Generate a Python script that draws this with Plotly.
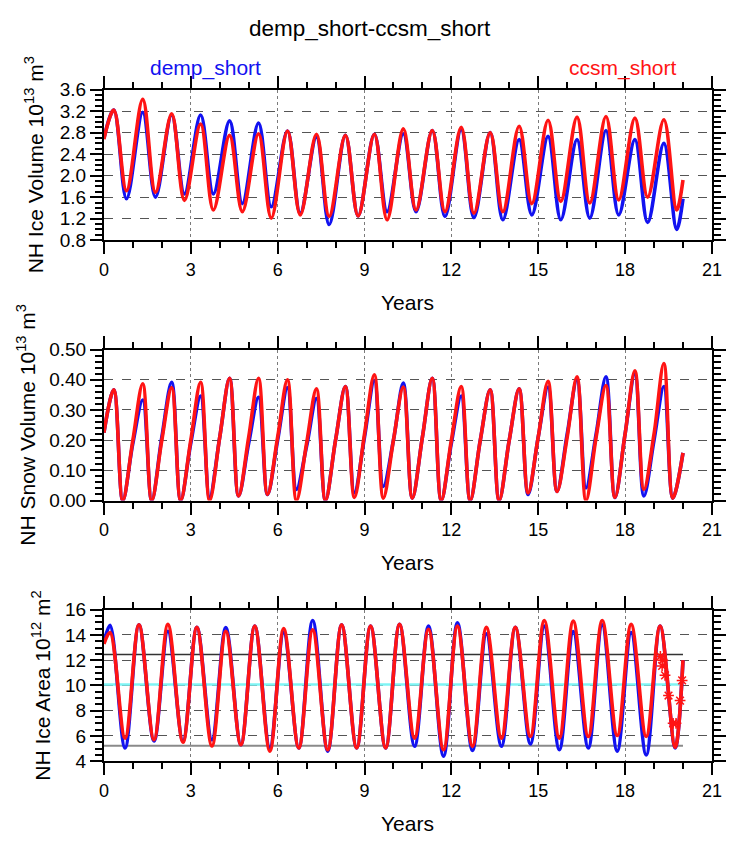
import plotly.graph_objects as go

# ---------------- data ----------------
YEARS = list(range(20))

# NH ice volume (10^13 m^3): seasonal maxima / minima per model year
VOL_T_PEAK, VOL_T_TROUGH = 0.34, 0.78
vol_demp_start, vol_demp_end = 2.70, 1.57
vol_demp_peak = [3.22, 3.18, 3.13, 3.13, 3.02, 2.98, 2.83, 2.72, 2.75, 2.77,
                 2.78, 2.84, 2.86, 2.80, 2.67, 2.73, 2.67, 2.84, 2.67, 2.60]
vol_demp_trough = [1.57, 1.60, 1.66, 1.66, 1.48, 1.42, 1.30, 1.09, 1.25, 1.33,
                   1.33, 1.24, 1.22, 1.18, 1.27, 1.18, 1.21, 1.27, 1.13, 1.00]
vol_ccsm_start, vol_ccsm_end = 2.68, 1.92
vol_ccsm_peak = [3.22, 3.42, 3.15, 2.96, 2.75, 2.78, 2.83, 2.77, 2.75, 2.77,
                 2.87, 2.84, 2.90, 2.80, 2.92, 3.03, 3.09, 3.10, 3.07, 3.04]
vol_ccsm_trough = [1.72, 1.69, 1.54, 1.36, 1.33, 1.21, 1.27, 1.24, 1.25, 1.18,
                   1.36, 1.33, 1.30, 1.33, 1.48, 1.52, 1.49, 1.55, 1.60, 1.36]

# NH snow volume (10^13 m^3): January value, spring maximum, summer minimum
SNOW_T_JAN, SNOW_T_PEAK, SNOW_T_TROUGH = 0.0, 0.34, 0.65
snow_demp_start, snow_demp_end = 0.225, 0.158
snow_demp_jan = [None, 0.19, 0.21, 0.19, 0.21, 0.19, 0.20, 0.18, 0.20, 0.21,
                 0.20, 0.21, 0.19, 0.20, 0.20, 0.21, 0.22, 0.22, 0.22, 0.20]
snow_demp_peak = [0.367, 0.333, 0.392, 0.346, 0.405, 0.342, 0.374, 0.338, 0.378, 0.398,
                  0.389, 0.405, 0.346, 0.367, 0.370, 0.376, 0.400, 0.410, 0.420, 0.378]
snow_demp_trough = [0.000, 0.000, 0.000, 0.010, 0.015, 0.020, 0.037, 0.000, 0.026, 0.047,
                    0.008, 0.000, 0.000, 0.000, 0.020, 0.030, 0.042, 0.010, 0.015, 0.008]
snow_ccsm_start, snow_ccsm_end = 0.225, 0.158
snow_ccsm_jan = [None, 0.20, 0.20, 0.20, 0.21, 0.21, 0.21, 0.19, 0.20, 0.22,
                 0.20, 0.21, 0.20, 0.20, 0.20, 0.21, 0.21, 0.21, 0.22, 0.22]
snow_ccsm_peak = [0.367, 0.387, 0.374, 0.392, 0.405, 0.405, 0.400, 0.370, 0.378, 0.417,
                  0.376, 0.405, 0.378, 0.367, 0.370, 0.395, 0.410, 0.381, 0.430, 0.454]
snow_ccsm_trough = [0.000, 0.000, 0.000, 0.000, 0.015, 0.020, 0.000, 0.000, 0.010, 0.008,
                    0.008, 0.000, 0.000, 0.000, 0.025, 0.030, 0.000, 0.010, 0.037, 0.008]

# NH ice area (10^12 m^2)
AREA_T_PEAK, AREA_T_TROUGH = 0.21, 0.73
area_demp_start, area_demp_end = 13.4, 12.0
area_demp_peak = [14.76, 14.80, 14.30, 14.60, 14.58, 14.70, 14.20, 15.15, 14.80, 14.70,
                  14.84, 14.70, 14.97, 14.10, 14.60, 14.70, 14.27, 14.80, 14.20, 14.70]
area_demp_trough = [5.05, 5.60, 5.60, 5.70, 5.30, 5.05, 5.05, 4.80, 5.05, 5.05,
                    5.18, 4.40, 4.85, 5.18, 5.36, 4.90, 5.05, 4.80, 4.50, 5.05]
area_ccsm_start, area_ccsm_end = 13.3, 12.0
area_ccsm_peak = [14.20, 14.80, 14.84, 14.60, 14.30, 14.70, 14.50, 14.40, 14.80, 14.70,
                  14.84, 14.45, 14.70, 14.60, 14.60, 15.15, 15.10, 15.15, 14.84, 14.70]
area_ccsm_trough = [5.83, 5.70, 5.50, 5.20, 5.30, 4.80, 5.05, 4.90, 5.05, 5.05,
                    5.83, 4.90, 5.18, 5.83, 5.95, 5.83, 5.95, 6.03, 5.95, 5.10]

# extra red star samples in the last year of the ice-area panel
star_x = [19.22, 19.28, 19.30, 19.38, 19.50, 19.66, 19.76, 19.90, 19.97]
star_y = [12.30, 11.55, 12.00, 10.80, 9.20, 7.00, 7.00, 8.80, 10.40]

# reference levels drawn on the ice-area panel
area_ref_x = [0, 20]
area_ref_high = 12.45
area_ref_mid = 10.07
area_ref_low = 5.23

X_TICKS = [0, 3, 6, 9, 12, 15, 18, 21]

# ---------------- helpers ----------------
def two_phase(start, peaks, troughs, end, tp, tt):
    xs, ys = [0.0], [start]
    for k, p, t in zip(YEARS, peaks, troughs):
        xs += [k + tp, k + tt]
        ys += [p, t]
    xs.append(20.0)
    ys.append(end)
    return xs, ys


def three_phase(start, jans, peaks, troughs, end):
    xs, ys = [0.0], [start]
    for k, j, p, t in zip(YEARS, jans, peaks, troughs):
        if j is not None:
            xs.append(k + SNOW_T_JAN)
            ys.append(j)
        xs += [k + SNOW_T_PEAK, k + SNOW_T_TROUGH]
        ys += [p, t]
    xs.append(20.0)
    ys.append(end)
    return xs, ys


W, H = 733, 846
FONT = "Liberation Sans, Arial, Helvetica, sans-serif"
BLUE, RED = "#1212f0", "#ff1414"


def fx(px):
    return px / W


def fy(py):
    return 1 - py / H


X0, X1 = 101, 721.7
PANELS = [(81.7, 236.0), (348.3, 503.0), (615.0, 770.3)]

fig = go.Figure()

line_style = dict(width=3.6, shape="spline", smoothing=1.0)

series = [
    (two_phase(vol_demp_start, vol_demp_peak, vol_demp_trough, vol_demp_end, VOL_T_PEAK, VOL_T_TROUGH),
     two_phase(vol_ccsm_start, vol_ccsm_peak, vol_ccsm_trough, vol_ccsm_end, VOL_T_PEAK, VOL_T_TROUGH)),
    (three_phase(snow_demp_start, snow_demp_jan, snow_demp_peak, snow_demp_trough, snow_demp_end),
     three_phase(snow_ccsm_start, snow_ccsm_jan, snow_ccsm_peak, snow_ccsm_trough, snow_ccsm_end)),
    (two_phase(area_demp_start, area_demp_peak, area_demp_trough, area_demp_end, AREA_T_PEAK, AREA_T_TROUGH),
     two_phase(area_ccsm_start, area_ccsm_peak, area_ccsm_trough, area_ccsm_end, AREA_T_PEAK, AREA_T_TROUGH)),
]

for i, (demp, ccsm) in enumerate(series):
    xa = "x" if i == 0 else f"x{i+1}"
    ya = "y" if i == 0 else f"y{i+1}"
    if i == 2:
        fig.add_trace(go.Scatter(x=area_ref_x, y=[area_ref_high] * 2, mode="lines",
                                 line=dict(color="#333333", width=1.5), xaxis=xa, yaxis=ya,
                                 showlegend=False, hoverinfo="skip"))
        fig.add_trace(go.Scatter(x=area_ref_x, y=[area_ref_mid] * 2, mode="lines",
                                 line=dict(color="#7ff5f5", width=2.5), xaxis=xa, yaxis=ya,
                                 showlegend=False, hoverinfo="skip"))
        fig.add_trace(go.Scatter(x=area_ref_x, y=[area_ref_low] * 2, mode="lines",
                                 line=dict(color="#8a8a8a", width=2), xaxis=xa, yaxis=ya,
                                 showlegend=False, hoverinfo="skip"))
    fig.add_trace(go.Scatter(x=demp[0], y=demp[1], mode="lines", name="demp_short",
                             line=dict(color=BLUE, **line_style), xaxis=xa, yaxis=ya, showlegend=False))
    fig.add_trace(go.Scatter(x=ccsm[0], y=ccsm[1], mode="lines", name="ccsm_short",
                             line=dict(color=RED, **line_style), xaxis=xa, yaxis=ya, showlegend=False))

fig.add_trace(go.Scatter(x=star_x, y=star_y, mode="markers", xaxis="x3", yaxis="y3",
                         marker=dict(symbol="asterisk-open", size=9, color=RED,
                                     line=dict(color=RED, width=1.5)),
                         showlegend=False))

common_x = dict(range=[0, 21], tickvals=X_TICKS, ticktext=[str(v) for v in X_TICKS],
                ticks="outside", ticklen=12, tickwidth=2, tickcolor="black",
                showline=True, linecolor="black", linewidth=2, mirror="allticks",
                showgrid=True, gridcolor="#7a7a7a", griddash="dot", gridwidth=1.2,
                zeroline=False, tickfont=dict(size=18, color="black", family=FONT),
                minor=dict(dtick=1, tick0=0, ticks="outside", ticklen=6, tickwidth=1.5,
                           tickcolor="black", showgrid=False))
common_y = dict(ticks="outside", ticklen=12, tickwidth=2, tickcolor="black",
                showline=True, linecolor="black", linewidth=2, mirror="allticks",
                showgrid=True, gridcolor="#555555", griddash="dash", gridwidth=1,
                zeroline=False, tickfont=dict(size=19, color="black", family=FONT))

yspecs = [
    dict(range=[0.8, 3.6], tick0=0.8, dtick=0.4, tickformat=".1f", minor_dtick=0.1),
    dict(range=[0.0, 0.5], tick0=0.0, dtick=0.1, tickformat=".2f", minor_dtick=0.02),
    dict(range=[4, 16], tick0=4, dtick=2, tickformat="d", minor_dtick=0.5),
]

layout = dict(width=W, height=H, autosize=False, margin=dict(l=0, r=0, t=0, b=0),
              paper_bgcolor="white", plot_bgcolor="white", showlegend=False)
for i, (top, bot) in enumerate(PANELS):
    sx = "" if i == 0 else str(i + 1)
    spec = yspecs[i]
    layout["xaxis" + sx] = dict(common_x, domain=[fx(X0), fx(X1)], anchor="y" + sx)
    layout["yaxis" + sx] = dict(common_y, domain=[fy(bot), fy(top)], anchor="x" + sx,
                                range=spec["range"], tick0=spec["tick0"], dtick=spec["dtick"],
                                tickformat=spec["tickformat"],
                                minor=dict(dtick=spec["minor_dtick"], tick0=spec["tick0"],
                                           ticks="outside", ticklen=7, tickwidth=1.5,
                                           tickcolor="black", showgrid=False))
fig.update_layout(**layout)

ann = []


def add_text(text, px, py, size, color="black", angle=0):
    ann.append(dict(text=text, x=fx(px), y=fy(py), xref="paper", yref="paper",
                    showarrow=False, xanchor="center", yanchor="middle", textangle=angle,
                    font=dict(size=size, color=color, family=FONT)))


add_text("demp_short-ccsm_short", 373, 19, 22.5)
add_text("demp_short", 205, 59, 21, BLUE)
add_text("ccsm_short", 631, 59, 21, RED)
for (top, bot), lab, lx in zip(PANELS,
                               ["NH Ice Volume 10<sup>13</sup> m<sup>3</sup>",
                                "NH Snow Volume 10<sup>13</sup> m<sup>3</sup>",
                                "NH Ice Area 10<sup>12</sup> m<sup>2</sup>"],
                               [30, 22, 37]):
    add_text("Years", (X0 + X1) / 2, bot + 64, 21)
    add_text(lab, lx, (top + bot) / 2, 21, angle=-90)
fig.update_layout(annotations=ann)

fig.write_html("out.html")
